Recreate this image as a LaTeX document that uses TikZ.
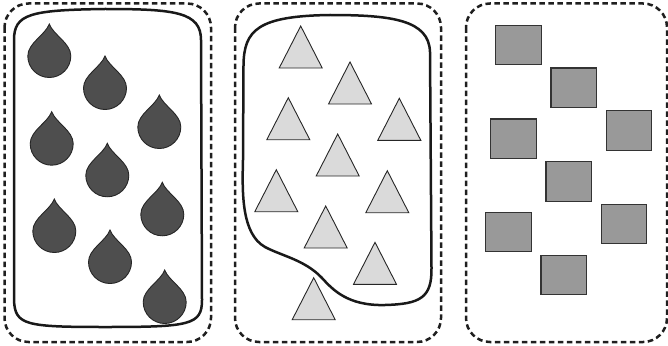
\documentclass[tikz,border=0pt]{standalone}
\begin{document}
\definecolor{dropc}{RGB}{78,78,78}
\definecolor{tric}{RGB}{218,218,218}
\definecolor{sqc}{RGB}{153,153,153}
\tikzset{
  outerbox/.style={draw=black!88, line width=2.5pt, dash pattern=on 5.5pt off 3.5pt, rounded corners=24pt},
  innerline/.style={draw=black!90, line width=2.5pt},
  dropshape/.style={fill=dropc, draw=black!85, line width=0.9pt},
  trishape/.style={fill=tric, draw=black!85, line width=0.9pt, line join=miter},
  sqshape/.style={fill=sqc, draw=black!80, line width=1.1pt}
}
\begin{tikzpicture}[x=1pt,y=-1pt]
\useasboundingbox (0,0) rectangle (668,345);
% dashed outer boxes
\draw[outerbox] (4.5,3.5) rectangle (211,342);
\draw[outerbox] (235,3.5) rectangle (441,342);
\draw[outerbox] (466,3.5) rectangle (667,342);
% panel 1 inner outline
\draw[innerline] (14,40) .. controls (14,14) and (30,10) .. (105,9)
  .. controls (175,9) and (201,12) .. (201,40) -- (202,300)
  .. controls (202,325) and (190,327) .. (105,327)
  .. controls (25,327) and (15,325) .. (14,300) -- cycle;
% drops
\foreach \x/\y in {49.3/24,105/56,159.3/95,51.7/111.7,107.3/143.3,162.3/182.3,54.3/199,110/230,164.7/270}{
  \begin{scope}[shift={(\x,\y)}]
    \draw[dropshape] (0,0) .. controls (4,11) and (21.5,19) .. (21.5,32)
      arc (0:180:21.5) .. controls (-21.5,19) and (-4,11) .. (0,0) -- cycle;
  \end{scope}
}
% panel 2 blob
\draw[innerline] (330,15) .. controls (392,15) and (429,20) .. (430,52) -- (431.5,268)
  .. controls (432,298) and (420,304) .. (385,305)
  .. controls (348,306) and (333,290) .. (322,278)
  .. controls (305,260) and (282,256) .. (265,247)
  .. controls (242,234) and (242,195) .. (243,160) -- (243.5,65)
  .. controls (244,30) and (258,16) .. (330,15) -- cycle;
% triangles
\foreach \cx/\ay in {300.7/26,350/62,288.3/97.7,399.3/98.3,337.7/134,276.3/169.7,387.3/170.7,325.7/206,375/242.3,313.7/277.7}{
  \draw[trishape] (\cx,\ay) -- ({\cx+21.5},{\ay+42}) -- ({\cx-21.5},{\ay+42}) -- cycle;
}
% squares
\foreach \x/\y in {495.7/25.3,551/68,490.7/119,606.3/110.7,546/161.7,485.7/212.3,601.3/204.3,541/255.3}{
  \draw[sqshape] (\x,\y) rectangle ++(45.5,39.5);
}
\end{tikzpicture}
\end{document}
